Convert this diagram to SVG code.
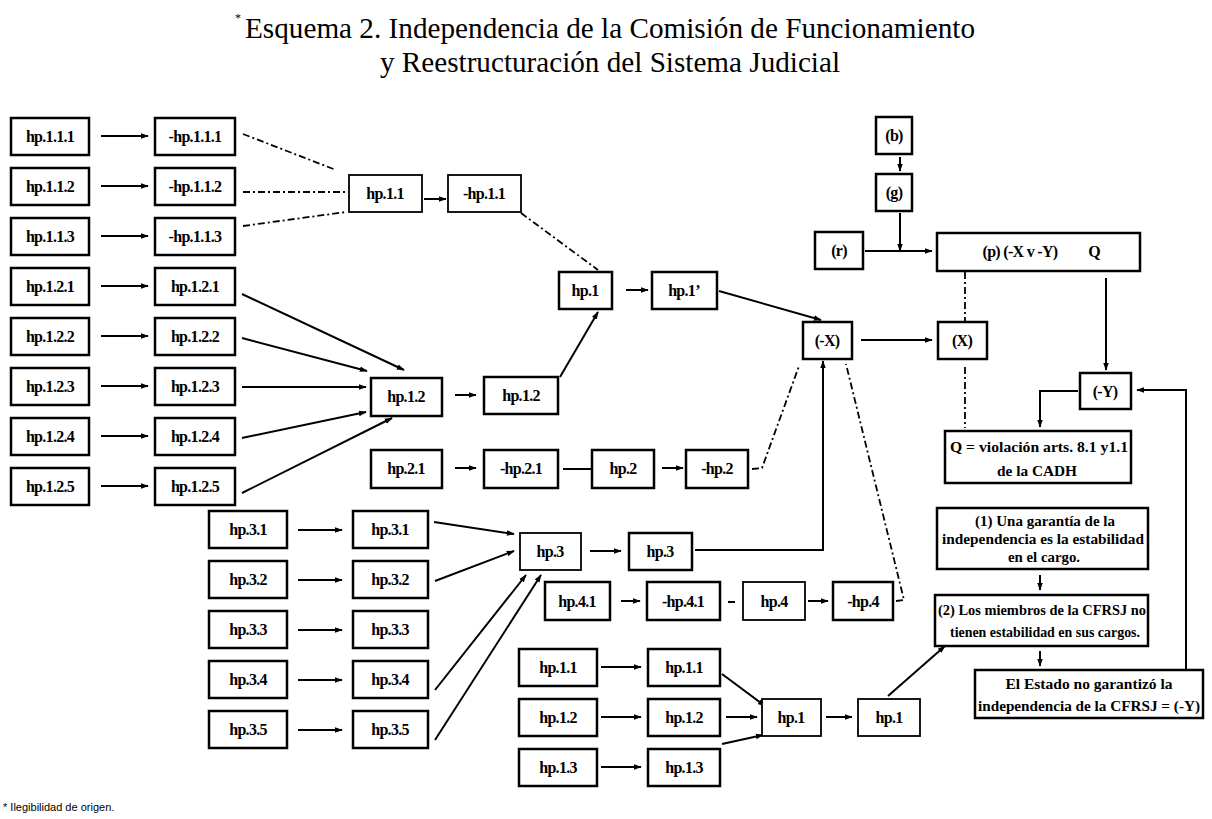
<svg xmlns="http://www.w3.org/2000/svg" width="1212" height="819" viewBox="0 0 1212 819">
<style>
.b{fill:#fff;stroke:#000;stroke-width:2.5}
.t{font-family:"Liberation Serif","Times New Roman",serif;font-weight:bold;font-size:16px;text-anchor:middle;fill:#000;letter-spacing:-0.7px}
.s{font-family:"Liberation Serif","Times New Roman",serif;font-weight:bold;font-size:15px;text-anchor:middle;fill:#000}
.a{stroke:#000;stroke-width:2;fill:none;marker-end:url(#ah)}
.l{stroke:#000;stroke-width:2;fill:none}
.d{stroke:#000;stroke-width:1.8;fill:none;stroke-dasharray:7 3 2 3}
.title{font-family:"Liberation Serif","Times New Roman",serif;font-size:29px;fill:#000}
</style>
<defs>
<marker id="ah" viewBox="0 0 10 10" refX="9" refY="5" markerWidth="4" markerHeight="4" orient="auto" markerUnits="strokeWidth">
<path d="M0,1.5 L10,5 L0,8.5 z" fill="#000"/>
</marker>
</defs>
<rect width="1212" height="819" fill="#fff"/>
<g id="title">
<text x="235" y="22" font-family="Liberation Serif,serif" font-size="12">*</text>
<text class="title" x="245" y="38" textLength="730" lengthAdjust="spacingAndGlyphs">Esquema 2. Independencia de la Comisión de Funcionamiento</text>
<text class="title" x="380" y="72" textLength="460" lengthAdjust="spacingAndGlyphs">y Reestructuración del Sistema Judicial</text>
</g>
<g id="connectors">
<path class="a" d="M101,136 H148"/>
<path class="a" d="M101,186 H148"/>
<path class="a" d="M101,236 H148"/>
<path class="a" d="M101,286 H148"/>
<path class="a" d="M101,336 H148"/>
<path class="a" d="M101,386 H148"/>
<path class="a" d="M101,436 H148"/>
<path class="a" d="M101,486 H148"/>
<path class="d" d="M243,134 L336,170"/>
<path class="d" d="M243,192 L346,192"/>
<path class="d" d="M243,226 L346,212"/>
<path class="a" d="M424,199 H446"/>
<path class="d" d="M521,213 L598,270"/>
<path class="a" d="M242,294 L404,370"/>
<path class="a" d="M242,338 L367,371"/>
<path class="a" d="M242,387 L366,387"/>
<path class="a" d="M242,438 L366,412"/>
<path class="a" d="M242,493 L392,418"/>
<path class="a" d="M455,395 H476"/>
<path class="a" d="M560,377 L598,312"/>
<path class="a" d="M626,290 H648"/>
<path class="a" d="M719,291 L821,320"/>
<path class="a" d="M455,468 H476"/>
<path class="l" d="M563,469 H591"/>
<path class="a" d="M662,468 H683"/>
<path class="d" d="M752,469 L762,468 L799,366"/>
<path class="a" d="M695,550 H823 V361"/>
<path class="d" d="M896,601 L904,600 L846,364"/>
<path class="a" d="M861,340 H932"/>
<path class="a" d="M900,157 V171"/>
<path class="a" d="M900,213 V251"/>
<path class="a" d="M865,251 H932"/>
<path class="d" d="M965,272 V322"/>
<path class="d" d="M965,367 V428"/>
<path class="a" d="M1106,278 V370"/>
<path class="a" d="M1078,391 H1040 V427"/>
<path class="a" d="M1186,670 V390 H1137"/>
<path class="a" d="M1040,575 V590"/>
<path class="a" d="M1040,651 V666"/>
<path class="a" d="M298,530 H342"/>
<path class="a" d="M298,580 H342"/>
<path class="a" d="M298,630 H342"/>
<path class="a" d="M298,680 H342"/>
<path class="a" d="M298,730 H342"/>
<path class="a" d="M434,522 L514,534"/>
<path class="a" d="M435,581 L514,551"/>
<path class="a" d="M435,690 L526,575"/>
<path class="a" d="M435,740 L541,575"/>
<path class="a" d="M590,551 H621"/>
<path class="a" d="M621,601 H640"/>
<path class="l" d="M728,602 H735"/>
<path class="a" d="M808,601 H828"/>
<path class="a" d="M601,667 H641"/>
<path class="a" d="M601,717 H641"/>
<path class="a" d="M601,767 H641"/>
<path class="a" d="M722,674 L765,706"/>
<path class="a" d="M726,717 H757"/>
<path class="a" d="M722,744 L763,735"/>
<path class="a" d="M826,717 H852"/>
<path class="a" d="M888,696 L945,646"/>
</g>
<g id="n_hp111"><rect class="b" x="11" y="118" width="78" height="37"/><text class="t" x="50" y="142">hp.1.1.1</text></g>
<g id="n_hp112"><rect class="b" x="11" y="168" width="78" height="37"/><text class="t" x="50" y="192">hp.1.1.2</text></g>
<g id="n_hp113"><rect class="b" x="11" y="218" width="78" height="37"/><text class="t" x="50" y="242">hp.1.1.3</text></g>
<g id="n_hp121"><rect class="b" x="11" y="268" width="78" height="37"/><text class="t" x="50" y="292">hp.1.2.1</text></g>
<g id="n_hp122"><rect class="b" x="11" y="318" width="78" height="37"/><text class="t" x="50" y="342">hp.1.2.2</text></g>
<g id="n_hp123"><rect class="b" x="11" y="368" width="78" height="37"/><text class="t" x="50" y="392">hp.1.2.3</text></g>
<g id="n_hp124"><rect class="b" x="11" y="418" width="78" height="37"/><text class="t" x="50" y="442">hp.1.2.4</text></g>
<g id="n_hp125"><rect class="b" x="11" y="468" width="78" height="37"/><text class="t" x="50" y="492">hp.1.2.5</text></g>
<g id="n_nhp111"><rect class="b" x="155" y="118" width="80" height="37"/><text class="t" x="195" y="142">-hp.1.1.1</text></g>
<g id="n_nhp112"><rect class="b" x="155" y="168" width="80" height="37"/><text class="t" x="195" y="192">-hp.1.1.2</text></g>
<g id="n_nhp113"><rect class="b" x="155" y="218" width="80" height="37"/><text class="t" x="195" y="242">-hp.1.1.3</text></g>
<g id="n_hp121b"><rect class="b" x="155" y="268" width="80" height="37"/><text class="t" x="195" y="292">hp.1.2.1</text></g>
<g id="n_hp122b"><rect class="b" x="155" y="318" width="80" height="37"/><text class="t" x="195" y="342">hp.1.2.2</text></g>
<g id="n_hp123b"><rect class="b" x="155" y="368" width="80" height="37"/><text class="t" x="195" y="392">hp.1.2.3</text></g>
<g id="n_hp124b"><rect class="b" x="155" y="418" width="80" height="37"/><text class="t" x="195" y="442">hp.1.2.4</text></g>
<g id="n_hp125b"><rect class="b" x="155" y="468" width="80" height="37"/><text class="t" x="195" y="492">hp.1.2.5</text></g>
<g id="n_hp11"><rect class="b" x="349" y="175" width="73" height="37" style="stroke-width:1.8"/><text class="t" x="385" y="199">hp.1.1</text></g>
<g id="n_nhp11"><rect class="b" x="448" y="175" width="73" height="37" style="stroke-width:1.8"/><text class="t" x="484" y="199">-hp.1.1</text></g>
<g id="n_hp1"><rect class="b" x="559" y="272" width="53" height="37"/><text class="t" x="585" y="296">hp.1</text></g>
<g id="n_hp1p"><rect class="b" x="652" y="272" width="65" height="37"/><text class="t" x="684" y="296">hp.1’</text></g>
<g id="n_hp12"><rect class="b" x="371" y="378" width="71" height="38"/><text class="t" x="406" y="402">hp.1.2</text></g>
<g id="n_hp12b"><rect class="b" x="484" y="377" width="74" height="37"/><text class="t" x="521" y="401">hp.1.2</text></g>
<g id="n_hp21"><rect class="b" x="371" y="450" width="71" height="38"/><text class="t" x="406" y="474">hp.2.1</text></g>
<g id="n_nhp21"><rect class="b" x="484" y="450" width="74" height="38"/><text class="t" x="521" y="474">-hp.2.1</text></g>
<g id="n_hp2"><rect class="b" x="592" y="450" width="62" height="38"/><text class="t" x="623" y="474">hp.2</text></g>
<g id="n_nhp2"><rect class="b" x="686" y="450" width="62" height="38"/><text class="t" x="717" y="474">-hp.2</text></g>
<g id="n_nX"><rect class="b" x="803" y="322" width="49" height="37"/><text class="t" x="827" y="346">(-X)</text></g>
<g id="n_X"><rect class="b" x="938" y="322" width="49" height="37"/><text class="t" x="962" y="346">(X)</text></g>
<g id="n_b"><rect class="b" x="876" y="117" width="36" height="37"/><text class="t" x="894" y="141">(b)</text></g>
<g id="n_g"><rect class="b" x="876" y="174" width="36" height="37"/><text class="t" x="894" y="198">(g)</text></g>
<g id="n_r"><rect class="b" x="815" y="232" width="48" height="37"/><text class="t" x="839" y="256">(r)</text></g>
<g id="n_p"><rect class="b" x="937" y="233" width="203" height="38"/><text class="t" x="1020" y="257">(p) (-X v -Y)</text><text class="t" x="1094" y="257">Q</text></g>
<g id="n_nY"><rect class="b" x="1080" y="373" width="51" height="36"/><text class="t" x="1105" y="397">(-Y)</text></g>
<g id="n_Q"><rect class="b" x="945" y="431" width="186" height="52"/><text class="s" x="1039" y="452" textLength="178" lengthAdjust="spacingAndGlyphs">Q = violación arts. 8.1 y1.1</text><text class="s" x="1037" y="476" textLength="80" lengthAdjust="spacingAndGlyphs">de la CADH</text></g>
<g id="n_hp31"><rect class="b" x="209" y="511" width="78" height="37"/><text class="t" x="248" y="535">hp.3.1</text></g>
<g id="n_hp32"><rect class="b" x="209" y="561" width="78" height="37"/><text class="t" x="248" y="585">hp.3.2</text></g>
<g id="n_hp33"><rect class="b" x="209" y="611" width="78" height="37"/><text class="t" x="248" y="635">hp.3.3</text></g>
<g id="n_hp34"><rect class="b" x="209" y="661" width="78" height="37"/><text class="t" x="248" y="685">hp.3.4</text></g>
<g id="n_hp35"><rect class="b" x="209" y="711" width="78" height="37"/><text class="t" x="248" y="735">hp.3.5</text></g>
<g id="n_hp31b"><rect class="b" x="353" y="511" width="75" height="37"/><text class="t" x="390" y="535">hp.3.1</text></g>
<g id="n_hp32b"><rect class="b" x="353" y="561" width="75" height="37"/><text class="t" x="390" y="585">hp.3.2</text></g>
<g id="n_hp33b"><rect class="b" x="353" y="611" width="75" height="37"/><text class="t" x="390" y="635">hp.3.3</text></g>
<g id="n_hp34b"><rect class="b" x="353" y="661" width="75" height="37"/><text class="t" x="390" y="685">hp.3.4</text></g>
<g id="n_hp35b"><rect class="b" x="353" y="711" width="75" height="37"/><text class="t" x="390" y="735">hp.3.5</text></g>
<g id="n_hp3"><rect class="b" x="520" y="533" width="61" height="37" style="stroke-width:1.8"/><text class="t" x="550" y="557">hp.3</text></g>
<g id="n_hp3b"><rect class="b" x="629" y="533" width="63" height="37"/><text class="t" x="660" y="557">hp.3</text></g>
<g id="n_hp41"><rect class="b" x="545" y="582" width="65" height="38"/><text class="t" x="577" y="607">hp.4.1</text></g>
<g id="n_nhp41"><rect class="b" x="647" y="582" width="73" height="38"/><text class="t" x="683" y="607">-hp.4.1</text></g>
<g id="n_hp4"><rect class="b" x="743" y="582" width="62" height="38" style="stroke-width:1.8"/><text class="t" x="774" y="607">hp.4</text></g>
<g id="n_nhp4"><rect class="b" x="833" y="582" width="60" height="38"/><text class="t" x="863" y="607">-hp.4</text></g>
<g id="n_hp11x"><rect class="b" x="519" y="649" width="78" height="37"/><text class="t" x="558" y="673">hp.1.1</text></g>
<g id="n_hp12x"><rect class="b" x="519" y="699" width="78" height="37"/><text class="t" x="558" y="723">hp.1.2</text></g>
<g id="n_hp13x"><rect class="b" x="519" y="749" width="78" height="37"/><text class="t" x="558" y="773">hp.1.3</text></g>
<g id="n_hp11y"><rect class="b" x="648" y="649" width="72" height="37"/><text class="t" x="684" y="673">hp.1.1</text></g>
<g id="n_hp12y"><rect class="b" x="648" y="699" width="72" height="37"/><text class="t" x="684" y="723">hp.1.2</text></g>
<g id="n_hp13y"><rect class="b" x="648" y="749" width="72" height="37"/><text class="t" x="684" y="773">hp.1.3</text></g>
<g id="n_hp1x"><rect class="b" x="762" y="699" width="59" height="37" style="stroke-width:1.8"/><text class="t" x="791" y="723">hp.1</text></g>
<g id="n_hp1y"><rect class="b" x="858" y="699" width="62" height="37" style="stroke-width:1.8"/><text class="t" x="889" y="723">hp.1</text></g>
<g id="n_1"><rect class="b" x="937" y="508" width="211" height="61"/><text class="s" x="1045" y="526" textLength="140" lengthAdjust="spacingAndGlyphs">(1) Una garantía de la</text><text class="s" x="1043" y="544" textLength="202" lengthAdjust="spacingAndGlyphs">independencia es la estabilidad</text><text class="s" x="1044" y="562" textLength="72" lengthAdjust="spacingAndGlyphs">en el cargo.</text></g>
<g id="n_2"><rect class="b" x="935" y="595" width="213" height="51"/><text class="s" x="1042" y="615" textLength="208" lengthAdjust="spacingAndGlyphs">(2) Los miembros de la CFRSJ no</text><text class="s" x="1045" y="637" textLength="190" lengthAdjust="spacingAndGlyphs">tienen estabilidad en sus cargos.</text></g>
<g id="n_estado"><rect class="b" x="975" y="670" width="228" height="48"/><text class="s" x="1089" y="689" textLength="167" lengthAdjust="spacingAndGlyphs">El Estado no garantizó la</text><text class="s" x="1089" y="711" textLength="222" lengthAdjust="spacingAndGlyphs">independencia de la CFRSJ = (-Y)</text></g>
<text x="3" y="811" font-family="Liberation Sans,sans-serif" font-size="11" fill="#000">* Ilegibilidad de origen.</text>
</svg>
